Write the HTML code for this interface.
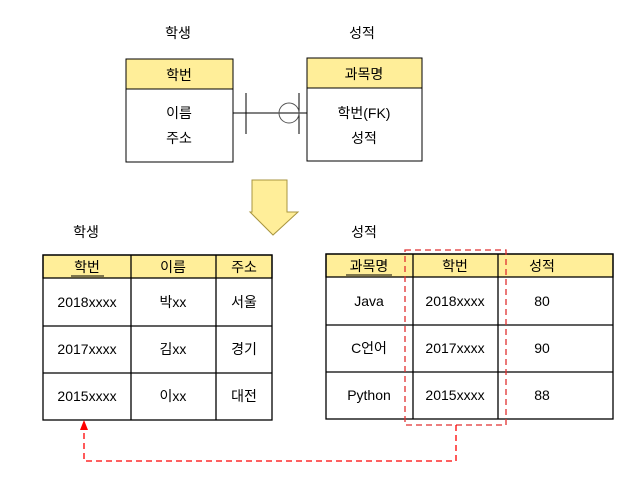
<!DOCTYPE html>
<html><head><meta charset="utf-8"><style>
body{margin:0;background:#fff;width:629px;height:486px;overflow:hidden}
</style></head><body>
<svg width="629" height="486" xmlns="http://www.w3.org/2000/svg" font-family="Liberation Sans, Noto Sans CJK KR, sans-serif" font-size="14" text-anchor="middle">
<g fill="#000">
<text x="178" y="38">학생</text>
<text x="362" y="38">성적</text>
<text x="86" y="237">학생</text>
<text x="364" y="237">성적</text>
</g>
<!-- top left entity -->
<rect x="126" y="59" width="107" height="103" fill="#fff" stroke="#000"/>
<rect x="126" y="59" width="107" height="30" fill="#ffee99" stroke="#000"/>
<text x="179" y="80">학번</text>
<text x="179" y="118">이름</text>
<text x="179" y="143">주소</text>
<!-- top right entity -->
<rect x="307" y="58" width="115" height="103" fill="#fff" stroke="#000"/>
<rect x="307" y="58" width="115" height="30" fill="#ffee99" stroke="#000"/>
<text x="364" y="79">과목명</text>
<text x="364" y="118">학번(FK)</text>
<text x="364" y="143">성적</text>
<!-- connector -->
<line x1="233" y1="113" x2="307" y2="113" stroke="#000"/>
<line x1="246" y1="93" x2="246" y2="134" stroke="#000"/>
<line x1="299" y1="93" x2="299" y2="134" stroke="#000"/>
<circle cx="289" cy="113" r="10" fill="none" stroke="#555"/>
<!-- big arrow -->
<polygon points="252,180 287,180 287,212 298,212 273,235 250,212 252,212" fill="#ffee99" stroke="#a89540"/>
<!-- left table -->
<g stroke="#000" stroke-width="1.3">
<rect x="43" y="255" width="229" height="23" fill="#ffee99"/>
<rect x="43" y="255" width="229" height="165" fill="none"/>
<line x1="43" y1="326" x2="272" y2="326"/><line x1="43" y1="373" x2="272" y2="373"/>
<line x1="131" y1="255" x2="131" y2="420"/><line x1="216" y1="255" x2="216" y2="420"/>
<rect x="326" y="254" width="287" height="23" fill="#ffee99"/>
<rect x="326" y="254" width="287" height="165" fill="none"/>
<line x1="326" y1="325" x2="613" y2="325"/><line x1="326" y1="372" x2="613" y2="372"/>
<line x1="413" y1="254" x2="413" y2="419"/><line x1="498" y1="254" x2="498" y2="419"/>
</g>
<g font-size="14">
<text x="87" y="272">학번</text><line x1="71" y1="276" x2="104" y2="276" stroke="#000"/>
<text x="173" y="272">이름</text><text x="244" y="272">주소</text>
<text x="87" y="307">2018xxxx</text><text x="173" y="307">박xx</text><text x="244" y="307">서울</text>
<text x="87" y="354">2017xxxx</text><text x="173" y="354">김xx</text><text x="244" y="354">경기</text>
<text x="87" y="401">2015xxxx</text><text x="173" y="401">이xx</text><text x="244" y="401">대전</text>
<text x="369" y="271">과목명</text><line x1="346" y1="275" x2="392" y2="275" stroke="#000"/>
<text x="455" y="271">학번</text><text x="542" y="271">성적</text>
<text x="369" y="306">Java</text><text x="455" y="306">2018xxxx</text><text x="542" y="306">80</text>
<text x="369" y="353">C언어</text><text x="455" y="353">2017xxxx</text><text x="542" y="353">90</text>
<text x="369" y="400">Python</text><text x="455" y="400">2015xxxx</text><text x="542" y="400">88</text>
</g>
<!-- dashed -->
<rect x="405" y="250" width="101" height="175" fill="none" stroke="#e03030" stroke-width="1.3" stroke-dasharray="6,4"/>
<polyline points="456,425 456,461 84,461 84,428" fill="none" stroke="#ff0000" stroke-width="1.3" stroke-dasharray="6,4"/>
<polygon points="84,420 80,430 88,430" fill="#ff0000"/>
</svg>
</body></html>
